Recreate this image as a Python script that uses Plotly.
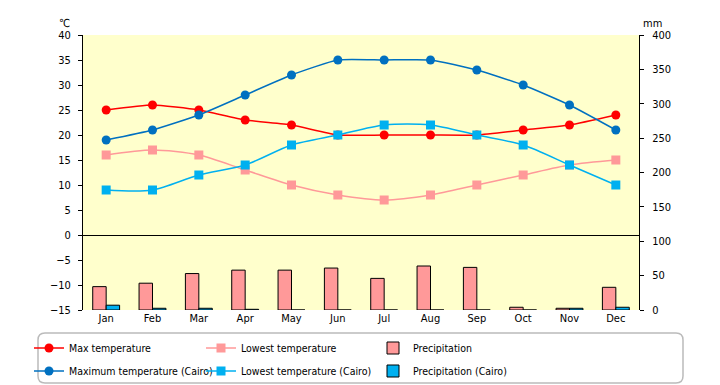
import plotly.graph_objects as go

months = ["Jan", "Feb", "Mar", "Apr", "May", "Jun", "Jul", "Aug", "Sep", "Oct", "Nov", "Dec"]
max_temp = [25, 26, 25, 23, 22, 20, 20, 20, 20, 21, 22, 24]
low_temp = [16, 17, 16, 13, 10, 8, 7, 8, 10, 12, 14, 15]
precip = [34, 39, 53, 58, 58, 61, 46, 64, 62, 4, 2.5, 33]
cairo_max = [19, 21, 24, 28, 32, 35, 35, 35, 33, 30, 26, 21]
cairo_low = [9, 9, 12, 14, 18, 20, 22, 22, 20, 18, 14, 10]
cairo_precip = [7, 2.5, 2.5, 1, 0, 0, 0, 0, 0, 0, 2.5, 4]

FONT = "DejaVu Sans Condensed, Liberation Sans Narrow, Noto Sans CJK JP, sans-serif"

fig = go.Figure()

fig.add_trace(go.Bar(x=months, y=precip, name="Precipitation", yaxis="y2",
                     marker=dict(color="#FF9999", line=dict(color="black", width=1)),
                     legend="legend", legendrank=3))
fig.add_trace(go.Bar(x=months, y=cairo_precip, name="Precipitation (Cairo)", yaxis="y2",
                     marker=dict(color="#00B0F0", line=dict(color="black", width=1)),
                     legend="legend2", legendrank=3))

fig.add_trace(go.Scatter(x=months, y=max_temp, name="Max temperature", mode="lines+markers",
                         line=dict(color="#FF0000", width=1.5, shape="spline", smoothing=0.5),
                         marker=dict(symbol="circle", size=9, color="#FF0000"),
                         legend="legend", legendrank=1))
fig.add_trace(go.Scatter(x=months, y=low_temp, name="Lowest temperature", mode="lines+markers",
                         line=dict(color="#FF9999", width=1.5, shape="spline", smoothing=0.8),
                         marker=dict(symbol="square", size=9, color="#FF9999"),
                         legend="legend", legendrank=2))
fig.add_trace(go.Scatter(x=months, y=cairo_max, name="Maximum temperature (Cairo)", mode="lines+markers",
                         line=dict(color="#0070C0", width=1.5, shape="spline", smoothing=0.5),
                         marker=dict(symbol="circle", size=9, color="#0070C0"),
                         legend="legend2", legendrank=1))
fig.add_trace(go.Scatter(x=months, y=cairo_low, name="Lowest temperature (Cairo)", mode="lines+markers",
                         line=dict(color="#00B0F0", width=1.5, shape="spline", smoothing=0.8),
                         marker=dict(symbol="square", size=9, color="#00B0F0"),
                         legend="legend2", legendrank=2))

# page body has an 8px margin, so the figure is drawn at (8, 8)
OFF = 8
W, H = 720 - OFF, 385 - OFF
L, T = 83 - OFF, 35 - OFF
R = W - (639 - OFF)
B = H - (310 - OFF)
pw, ph = W - L - R, H - T - B


def px_x(x):
    return (x - OFF - L) / pw


def px_y(y):
    return (H - B - (y - OFF)) / ph


# rounded legend border
x0, x1 = px_x(38), px_x(683)
y0, y1 = px_y(383), px_y(333)
rx, ry = 7 / pw, 7 / ph
path = (f"M {x0+rx},{y1} L {x1-rx},{y1} Q {x1},{y1} {x1},{y1-ry} "
        f"L {x1},{y0+ry} Q {x1},{y0} {x1-rx},{y0} L {x0+rx},{y0} "
        f"Q {x0},{y0} {x0},{y0+ry} L {x0},{y1-ry} Q {x0},{y1} {x0+rx},{y1} Z")

leg_common = dict(orientation="h", x=px_x(29), xanchor="left", yanchor="middle",
                  entrywidth=127, entrywidthmode="pixels", bgcolor="rgba(0,0,0,0)",
                  font=dict(size=10.5), traceorder="normal", itemwidth=30)

fig.update_layout(
    width=W, height=H,
    margin=dict(l=L, r=R, t=T, b=B, autoexpand=False),
    paper_bgcolor="white",
    plot_bgcolor="#FFFFCC",
    font=dict(family=FONT, size=11, color="black"),
    barmode="group",
    bargap=0.42,
    bargroupgap=0,
    showlegend=True,
    xaxis=dict(range=[-0.5, 11.5], showgrid=False, showline=False, ticks="",
               tickfont=dict(size=11)),
    yaxis=dict(range=[-15, 40], dtick=5, showgrid=False, showline=True, linecolor="black",
               linewidth=1, ticks="outside", ticklen=4, tickcolor="black", ticklabelstandoff=5,
               zeroline=True, zerolinecolor="black", zerolinewidth=1, tickfont=dict(size=11)),
    yaxis2=dict(range=[0, 400], dtick=50, overlaying="y", side="right", showgrid=False,
                showline=True, linecolor="black", linewidth=1, ticks="outside", ticklen=4,
                tickcolor="black", ticklabelstandoff=6, zeroline=False, tickfont=dict(size=11)),
    legend=dict(y=px_y(348), **leg_common),
    legend2=dict(y=px_y(371), **leg_common),
    shapes=[dict(type="path", xref="paper", yref="paper", path=path,
                 line=dict(color="#BBBBBB", width=1.5), fillcolor="rgba(0,0,0,0)")],
    annotations=[
        dict(text="℃", xref="paper", yref="paper", x=px_x(57), y=px_y(15), showarrow=False,
             font=dict(size=11)),
        dict(text="mm", xref="paper", yref="paper", x=px_x(664), y=px_y(15), showarrow=False,
             font=dict(size=11)),
    ],
)

fig.write_html("out.html")
